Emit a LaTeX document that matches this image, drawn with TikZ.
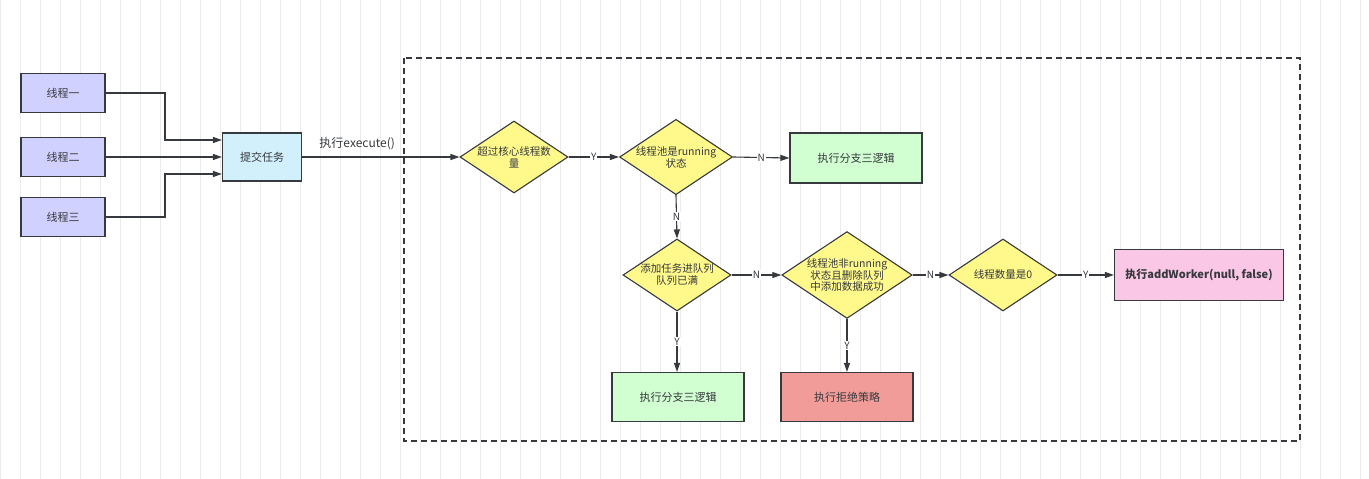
\documentclass[tikz,border=0pt]{standalone}
\usepackage{fontspec}
\setmainfont{Noto Sans CJK SC}
\usetikzlibrary{shapes.geometric,arrows.meta}
\definecolor{stk}{HTML}{36393D}
\begin{document}
\begin{tikzpicture}[x=1pt,y=-1pt,
  every node/.style={font=\fontsize{11}{13}\selectfont, text=stk},
  box/.style={draw=stk,line width=1.2pt,minimum width=#1,inner sep=1pt},
  dia/.style={diamond,draw=stk,line width=1.1pt,aspect=1.5,minimum width=108pt,minimum height=72pt,inner sep=0pt,fill=yellow!45!white,align=center,font=\fontsize{10.5}{12}\selectfont},
  arr/.style={draw=stk,line width=1.1pt,-{Triangle[length=9pt,width=6pt]}},
  lab/.style={fill=white,inner sep=1pt,font=\fontsize{10}{12}\selectfont}]
\useasboundingbox (0,0) rectangle (1369,479);
\fill[white] (0,0) rectangle (1369,479);
\draw[black!8,line width=0.6pt] (0,0) grid[step=20] (1369,479);
% left
\node[box=84pt,minimum height=39pt,fill=blue!18!white] (t1) at (63,93) {线程一};
\node[box=84pt,minimum height=39pt,fill=blue!18!white] (t2) at (63,157) {线程二};
\node[box=84pt,minimum height=39pt,fill=blue!18!white] (t3) at (63,217) {线程三};
\node[box=79pt,minimum height=48pt,fill=cyan!18!white] (sub) at (262,157) {提交任务};
\draw[arr] (t1.east) -| (165,140) -- (sub.west|-0,140);
\draw[arr] (t2.east) -- (sub.west);
\draw[arr] (t3.east) -| (165,174) -- (sub.west|-0,174);
\draw[stk,line width=1.2pt,dashed,dash pattern=on 6pt off 4pt] (404,58) rectangle (1300,441);
\node[dia] (d1) at (514,157) {超过核心线程数\\量};
\node[dia] (d2) at (676,157) {线程池是running\\状态};
\node[box=132pt,minimum height=50pt,fill=green!18!white] (g1) at (856,158) {执行分支三逻辑};
\node[dia] (d3) at (677,275) {添加任务进队列\\队列已满};
\node[dia,font=\fontsize{10.5}{11}\selectfont] (d4) at (847,275) {线程池非running\\状态且删除队列\\中添加数据成功};
\node[dia] (d5) at (1003,275) {线程数量是0};
\node[box=169pt,minimum height=51pt,fill=magenta!22!white,font=\bfseries\fontsize{11}{13}\selectfont] (pk) at (1199,275) {执行addWorker(null, false)};
\node[box=132pt,minimum height=49pt,fill=green!18!white] (g2) at (678,397) {执行分支三逻辑};
\node[box=132pt,minimum height=49pt,fill={rgb,255:red,241;green,156;blue,153}] (rj) at (847,397) {执行拒绝策略};
\draw[arr] (sub.east) -- node[above,font=\fontsize{12}{14}\selectfont,xshift=0pt,pos=0.35,yshift=3pt]{执行execute()} (d1.west);
\draw[arr] (d1.east) -- node[lab]{Y} (d2.west);
\draw[arr] (d2.east) -- node[lab]{N} (g1.west);
\draw[arr] (d2.south) -- node[lab]{N} (d3.north);
\draw[arr] (d3.east) -- node[lab]{N} (d4.west);
\draw[arr] (d3.south) -- node[lab]{Y} (g2.north-|d3.south);
\draw[arr] (d4.east) -- node[lab]{N} (d5.west);
\draw[arr] (d4.south) -- node[lab]{Y} (rj.north);
\draw[arr] (d5.east) -- node[lab]{Y} (pk.west);
\end{tikzpicture}
\end{document}
